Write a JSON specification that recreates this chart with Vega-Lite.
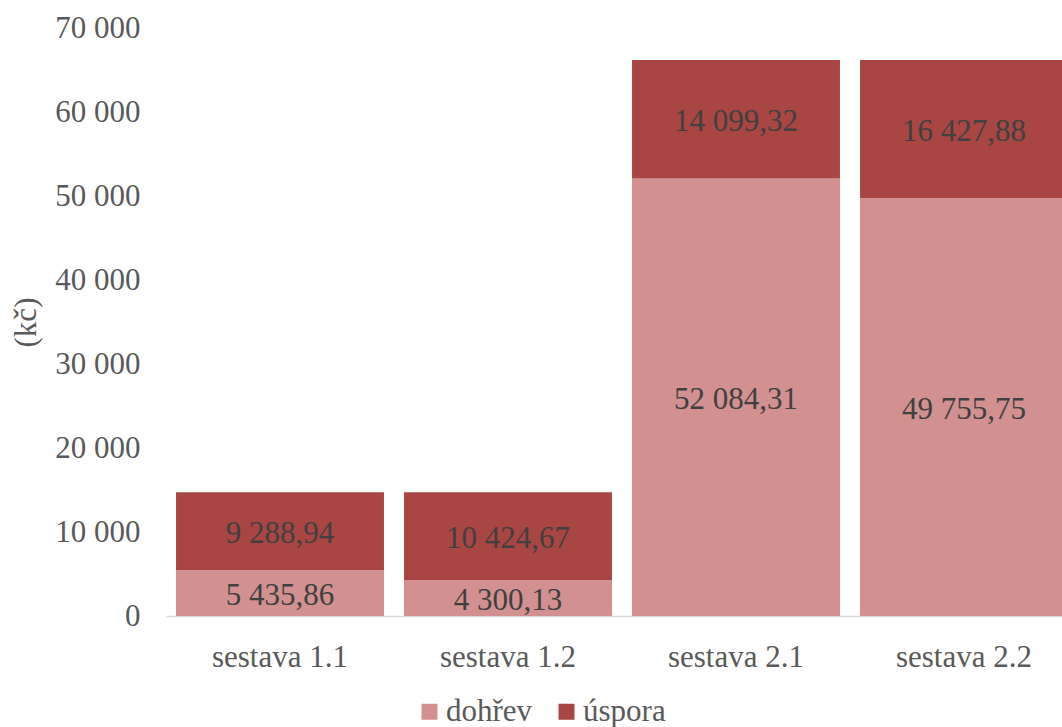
{
  "$schema": "https://vega.github.io/schema/vega-lite/v6.json",
  "autosize": "none",
  "width": 896,
  "height": 588,
  "padding": {"left": 166, "top": 28, "right": 0, "bottom": 111},
  "background": "white",
  "config": {
    "locale": {"number": {"decimal": ",", "thousands": " ", "grouping": [3], "currency": ["", " Kč"]}},
    "view": {"stroke": null},
    "font": "Liberation Serif"
  },
  "data": {
    "values": [
      {"sestava": "sestava 1.1", "typ": "dohřev", "hodnota": 5435.86},
      {"sestava": "sestava 1.1", "typ": "úspora", "hodnota": 9288.94},
      {"sestava": "sestava 1.2", "typ": "dohřev", "hodnota": 4300.13},
      {"sestava": "sestava 1.2", "typ": "úspora", "hodnota": 10424.67},
      {"sestava": "sestava 2.1", "typ": "dohřev", "hodnota": 52084.31},
      {"sestava": "sestava 2.1", "typ": "úspora", "hodnota": 14099.32},
      {"sestava": "sestava 2.2", "typ": "dohřev", "hodnota": 49755.75},
      {"sestava": "sestava 2.2", "typ": "úspora", "hodnota": 16427.88}
    ]
  },
  "encoding": {
    "x": {
      "field": "sestava",
      "type": "nominal",
      "sort": null,
      "scale": {"range": [0, 912], "paddingInner": 0.088, "paddingOuter": 0.044},
      "axis": {
        "title": null,
        "labelAngle": 0,
        "labelFontSize": 31,
        "labelColor": "#595959",
        "labelBaseline": "alphabetic",
        "labelPadding": 50,
        "ticks": false,
        "domainColor": "#d9d9d9",
        "domainWidth": 1.5
      }
    },
    "y": {
      "field": "hodnota",
      "type": "quantitative",
      "stack": "zero",
      "scale": {"domain": [0, 70000], "nice": false},
      "axis": {
        "title": "(kč)",
        "titleFontSize": 31,
        "titleFontWeight": "normal",
        "titleColor": "#595959",
        "titlePadding": 12,
        "values": [0, 10000, 20000, 30000, 40000, 50000, 60000, 70000],
        "format": ",d",
        "labelFontSize": 31,
        "labelColor": "#595959",
        "labelPadding": 26,
        "ticks": false,
        "domain": false,
        "grid": false
      }
    },
    "order": {"field": "typ", "sort": "ascending"}
  },
  "layer": [
    {
      "mark": {"type": "bar"},
      "encoding": {
        "color": {
          "field": "typ",
          "type": "nominal",
          "scale": {"domain": ["dohřev", "úspora"], "range": ["#d39090", "#a94543"]},
          "legend": {
            "title": null,
            "orient": "none",
            "direction": "horizontal",
            "legendX": 248,
            "legendY": 668,
            "padding": 0,
            "symbolType": "square",
            "symbolSize": 256,
            "symbolStrokeWidth": 0,
            "symbolOpacity": 1,
            "labelFontSize": 31,
            "labelColor": "#595959",
            "labelBaseline": "middle",
            "labelOffset": 1,
            "columnPadding": 18
          }
        }
      }
    },
    {
      "mark": {"type": "text", "fontSize": 31, "color": "#404040", "baseline": "middle", "dy": 3},
      "encoding": {
        "y": {"field": "hodnota", "type": "quantitative", "stack": "zero", "bandPosition": 0.5},
        "detail": {"field": "typ"},
        "text": {"field": "hodnota", "type": "quantitative", "format": ",.2f"}
      }
    }
  ]
}
